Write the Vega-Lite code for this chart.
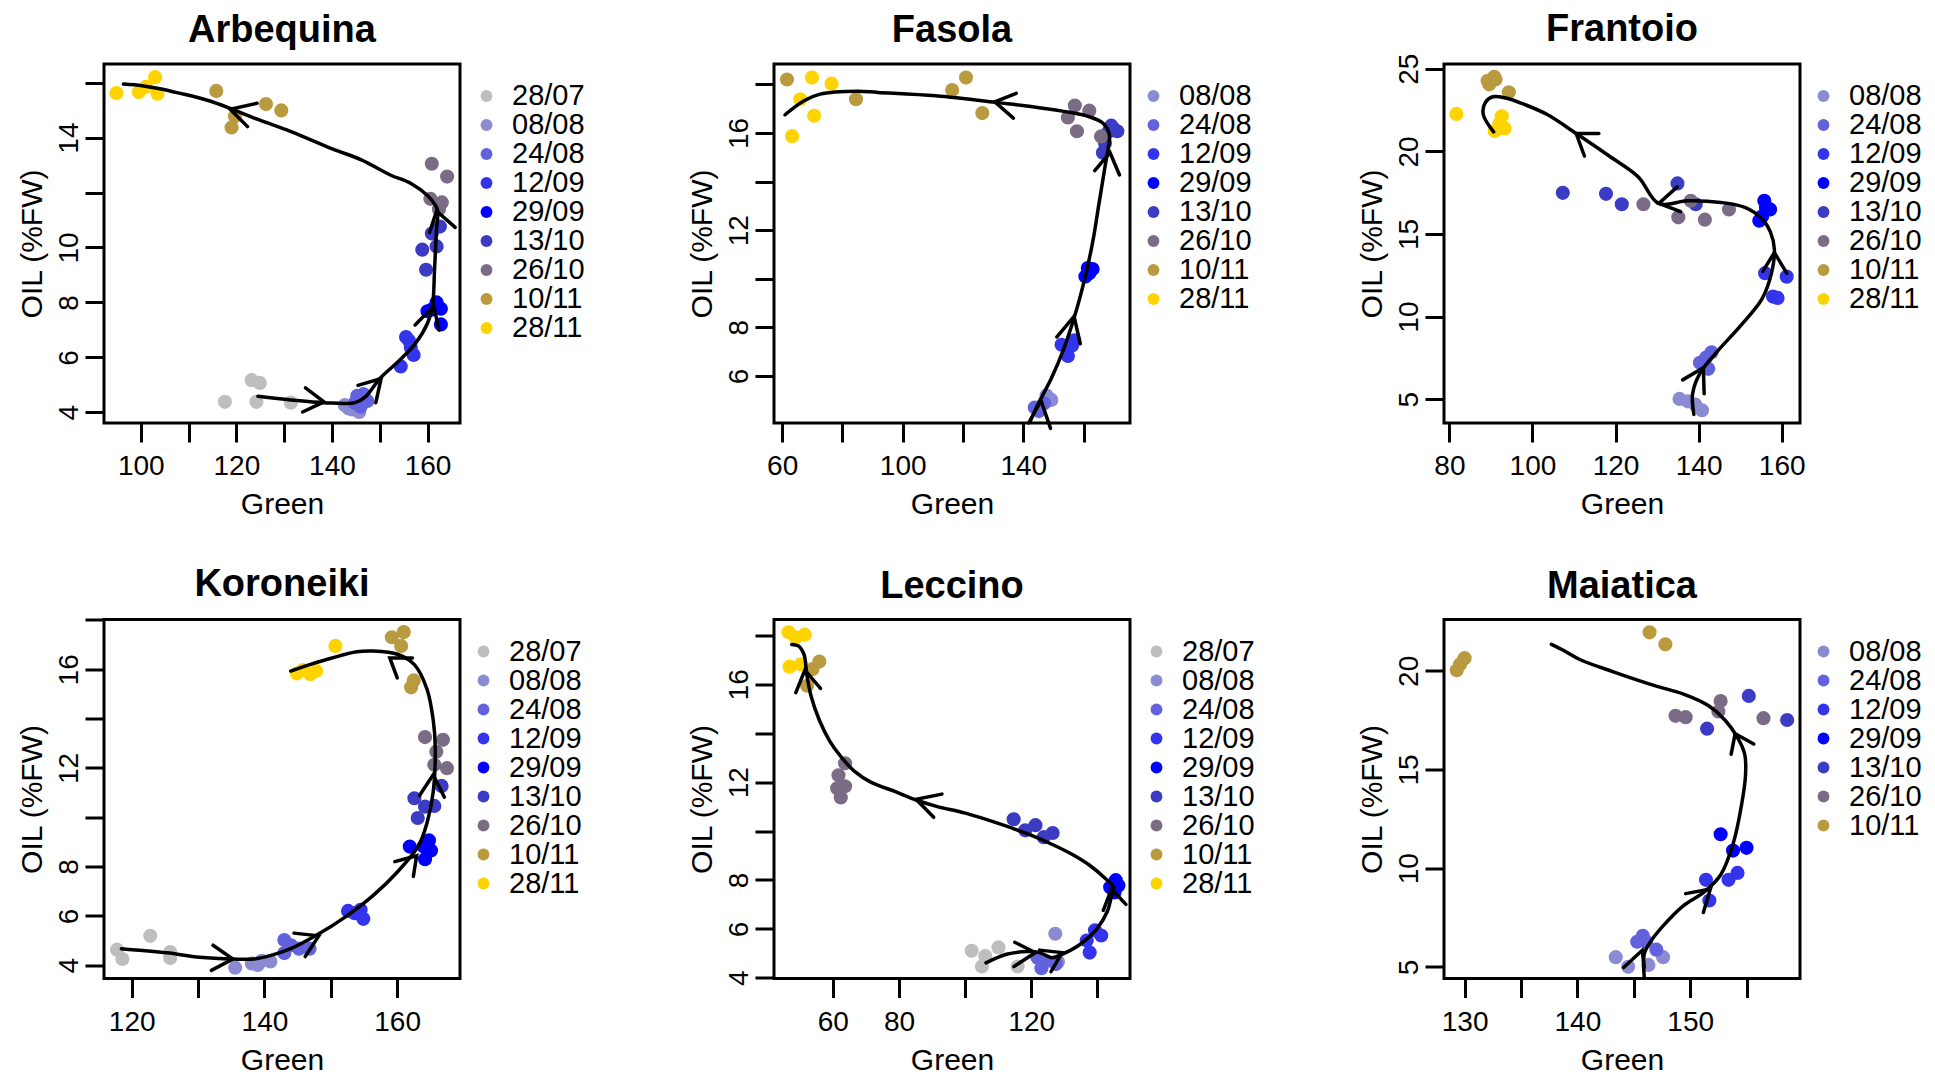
{
"$schema":"https://vega.github.io/schema/vega-lite/v6.json",
"background":"white",
"padding":{"left":15,"top":9,"right":0,"bottom":0},
"bounds":"flush",
"columns":3,
"spacing":{"row":196.5,"column":314},
"resolve":{"scale":{"x":"independent","y":"independent","color":"independent"},"legend":{"color":"independent"},"axis":{"x":"independent","y":"independent"}},
"config":{
"view":{"stroke":"black","strokeWidth":3},
"axis":{"domain":false,"grid":false,"ticks":true,"tickColor":"black","tickWidth":3,"tickSize":19,"labelFont":"Liberation Sans","labelFontSize":28,"labelColor":"black","labelPadding":10.5,"labelFlush":false,"labelOverlap":false,"titleFont":"Liberation Sans","titleFontSize":30,"titleFontWeight":"normal","titleColor":"black","titlePadding":9},
"axisY":{"labelAngle":270,"labelAlign":"center","labelBaseline":"bottom","labelPadding":2,"titlePadding":8},
"legend":{"labelFont":"Liberation Sans","labelFontSize":29,"labelColor":"black","symbolType":"circle","symbolSize":140,"symbolStrokeWidth":0,"symbolOpacity":1,"labelOffset":11,"padding":10,"offset":-1,"rowPadding":0,"clipHeight":28,"orient":"right"},
"title":{"font":"Liberation Sans","fontSize":38,"fontWeight":"bold","color":"black","offset":14,"baseline":"bottom","anchor":"middle"}
},
"datasets":{
"pts":[
{"v":"Arbequina","d":"28/07","g":117.6,"o":4.38},{"v":"Arbequina","d":"28/07","g":123.2,"o":5.17},{"v":"Arbequina","d":"28/07","g":124.9,"o":5.07},{"v":"Arbequina","d":"28/07","g":124.2,"o":4.38},{"v":"Arbequina","d":"28/07","g":131.4,"o":4.35},
{"v":"Arbequina","d":"08/08","g":142.7,"o":4.26},{"v":"Arbequina","d":"08/08","g":144.2,"o":4.10},{"v":"Arbequina","d":"08/08","g":145.7,"o":4.01},{"v":"Arbequina","d":"08/08","g":145.1,"o":4.41},{"v":"Arbequina","d":"08/08","g":143.5,"o":4.14},
{"v":"Arbequina","d":"24/08","g":145.3,"o":4.60},{"v":"Arbequina","d":"24/08","g":147.4,"o":4.41},{"v":"Arbequina","d":"24/08","g":144.8,"o":4.34},{"v":"Arbequina","d":"24/08","g":146.6,"o":4.66},{"v":"Arbequina","d":"24/08","g":146.0,"o":4.20},
{"v":"Arbequina","d":"12/09","g":156.1,"o":6.61},{"v":"Arbequina","d":"12/09","g":156.5,"o":6.36},{"v":"Arbequina","d":"12/09","g":157.1,"o":6.09},{"v":"Arbequina","d":"12/09","g":154.4,"o":5.67},{"v":"Arbequina","d":"12/09","g":155.5,"o":6.74},
{"v":"Arbequina","d":"29/09","g":160.9,"o":7.74},{"v":"Arbequina","d":"29/09","g":161.9,"o":8.0},{"v":"Arbequina","d":"29/09","g":162.8,"o":7.77},{"v":"Arbequina","d":"29/09","g":162.8,"o":7.20},{"v":"Arbequina","d":"29/09","g":160.0,"o":7.68},
{"v":"Arbequina","d":"13/10","g":160.9,"o":10.51},{"v":"Arbequina","d":"13/10","g":162.6,"o":10.76},{"v":"Arbequina","d":"13/10","g":158.9,"o":9.92},{"v":"Arbequina","d":"13/10","g":161.9,"o":10.04},{"v":"Arbequina","d":"13/10","g":159.7,"o":9.19},
{"v":"Arbequina","d":"26/10","g":160.9,"o":13.05},{"v":"Arbequina","d":"26/10","g":164.1,"o":12.58},{"v":"Arbequina","d":"26/10","g":160.6,"o":11.77},{"v":"Arbequina","d":"26/10","g":163.0,"o":11.64},{"v":"Arbequina","d":"26/10","g":162.4,"o":11.39},
{"v":"Arbequina","d":"10/11","g":115.8,"o":15.70},{"v":"Arbequina","d":"10/11","g":126.2,"o":15.22},{"v":"Arbequina","d":"10/11","g":129.4,"o":14.99},{"v":"Arbequina","d":"10/11","g":119.0,"o":14.37},{"v":"Arbequina","d":"10/11","g":119.7,"o":14.78},
{"v":"Arbequina","d":"28/11","g":94.9,"o":15.62},{"v":"Arbequina","d":"28/11","g":99.6,"o":15.66},{"v":"Arbequina","d":"28/11","g":101.1,"o":15.85},{"v":"Arbequina","d":"28/11","g":103.0,"o":16.20},{"v":"Arbequina","d":"28/11","g":103.5,"o":15.60},
{"v":"Fasola","d":"08/08","g":149.3,"o":5.01},{"v":"Fasola","d":"08/08","g":147.7,"o":5.19},
{"v":"Fasola","d":"24/08","g":143.8,"o":4.70},{"v":"Fasola","d":"24/08","g":146.9,"o":4.87},{"v":"Fasola","d":"24/08","g":145.2,"o":4.55},
{"v":"Fasola","d":"12/09","g":152.7,"o":7.28},{"v":"Fasola","d":"12/09","g":156.2,"o":7.25},{"v":"Fasola","d":"12/09","g":154.8,"o":6.82},{"v":"Fasola","d":"12/09","g":156.9,"o":7.46},
{"v":"Fasola","d":"29/09","g":161.4,"o":10.44},{"v":"Fasola","d":"29/09","g":163.0,"o":10.40},{"v":"Fasola","d":"29/09","g":160.6,"o":10.09},{"v":"Fasola","d":"29/09","g":161.9,"o":10.23},
{"v":"Fasola","d":"13/10","g":169.2,"o":16.30},{"v":"Fasola","d":"13/10","g":171.2,"o":16.07},{"v":"Fasola","d":"13/10","g":168.2,"o":16.04},{"v":"Fasola","d":"13/10","g":169.9,"o":16.18},{"v":"Fasola","d":"13/10","g":167.1,"o":15.59},{"v":"Fasola","d":"13/10","g":166.4,"o":15.19},
{"v":"Fasola","d":"26/10","g":157.1,"o":17.13},{"v":"Fasola","d":"26/10","g":161.9,"o":16.92},{"v":"Fasola","d":"26/10","g":154.8,"o":16.64},{"v":"Fasola","d":"26/10","g":157.8,"o":16.07},{"v":"Fasola","d":"26/10","g":165.8,"o":15.86},
{"v":"Fasola","d":"10/11","g":61.6,"o":18.20},{"v":"Fasola","d":"10/11","g":84.5,"o":17.39},{"v":"Fasola","d":"10/11","g":116.4,"o":17.77},{"v":"Fasola","d":"10/11","g":121.0,"o":18.28},{"v":"Fasola","d":"10/11","g":126.4,"o":16.82},
{"v":"Fasola","d":"28/11","g":69.9,"o":18.28},{"v":"Fasola","d":"28/11","g":66.0,"o":17.39},{"v":"Fasola","d":"28/11","g":70.6,"o":16.71},{"v":"Fasola","d":"28/11","g":76.4,"o":18.03},{"v":"Fasola","d":"28/11","g":63.3,"o":15.87},
{"v":"Frantoio","d":"08/08","g":135.4,"o":5.02},{"v":"Frantoio","d":"08/08","g":137.4,"o":4.87},{"v":"Frantoio","d":"08/08","g":140.8,"o":4.33},{"v":"Frantoio","d":"08/08","g":139.2,"o":4.67},
{"v":"Frantoio","d":"24/08","g":141.3,"o":7.11},{"v":"Frantoio","d":"24/08","g":142.3,"o":6.84},{"v":"Frantoio","d":"24/08","g":143.1,"o":7.84},{"v":"Frantoio","d":"24/08","g":140.3,"o":7.21},{"v":"Frantoio","d":"24/08","g":141.8,"o":7.52},
{"v":"Frantoio","d":"12/09","g":156.0,"o":12.63},{"v":"Frantoio","d":"12/09","g":161.2,"o":12.42},{"v":"Frantoio","d":"12/09","g":157.9,"o":11.21},{"v":"Frantoio","d":"12/09","g":159.0,"o":11.13},
{"v":"Frantoio","d":"29/09","g":155.8,"o":17.01},{"v":"Frantoio","d":"29/09","g":156.2,"o":16.60},{"v":"Frantoio","d":"29/09","g":155.3,"o":16.07},{"v":"Frantoio","d":"29/09","g":157.2,"o":16.49},{"v":"Frantoio","d":"29/09","g":154.6,"o":15.80},
{"v":"Frantoio","d":"13/10","g":107.3,"o":17.49},{"v":"Frantoio","d":"13/10","g":117.7,"o":17.43},{"v":"Frantoio","d":"13/10","g":121.5,"o":16.80},{"v":"Frantoio","d":"13/10","g":134.9,"o":18.06},{"v":"Frantoio","d":"13/10","g":139.3,"o":16.80},
{"v":"Frantoio","d":"26/10","g":126.7,"o":16.80},{"v":"Frantoio","d":"26/10","g":138.1,"o":17.01},{"v":"Frantoio","d":"26/10","g":147.3,"o":16.49},{"v":"Frantoio","d":"26/10","g":135.1,"o":16.01},{"v":"Frantoio","d":"26/10","g":141.5,"o":15.87},
{"v":"Frantoio","d":"10/11","g":89.2,"o":24.27},{"v":"Frantoio","d":"10/11","g":90.8,"o":24.52},{"v":"Frantoio","d":"10/11","g":94.3,"o":23.58},{"v":"Frantoio","d":"10/11","g":89.6,"o":24.06},{"v":"Frantoio","d":"10/11","g":91.1,"o":24.35},
{"v":"Frantoio","d":"28/11","g":81.7,"o":22.27},{"v":"Frantoio","d":"28/11","g":92.6,"o":22.12},{"v":"Frantoio","d":"28/11","g":93.3,"o":21.39},{"v":"Frantoio","d":"28/11","g":90.9,"o":21.23},{"v":"Frantoio","d":"28/11","g":92.1,"o":21.70},
{"v":"Koroneiki","d":"28/07","g":117.8,"o":4.63},{"v":"Koroneiki","d":"28/07","g":118.6,"o":4.25},{"v":"Koroneiki","d":"28/07","g":122.8,"o":5.19},{"v":"Koroneiki","d":"28/07","g":125.8,"o":4.53},{"v":"Koroneiki","d":"28/07","g":125.8,"o":4.29},
{"v":"Koroneiki","d":"08/08","g":135.6,"o":3.90},{"v":"Koroneiki","d":"08/08","g":138.1,"o":4.07},{"v":"Koroneiki","d":"08/08","g":139.6,"o":4.18},{"v":"Koroneiki","d":"08/08","g":140.9,"o":4.15},{"v":"Koroneiki","d":"08/08","g":139.0,"o":4.01},
{"v":"Koroneiki","d":"24/08","g":143.0,"o":5.02},{"v":"Koroneiki","d":"24/08","g":143.0,"o":4.49},{"v":"Koroneiki","d":"24/08","g":145.2,"o":4.67},{"v":"Koroneiki","d":"24/08","g":146.8,"o":4.67},{"v":"Koroneiki","d":"24/08","g":144.0,"o":4.81},
{"v":"Koroneiki","d":"12/09","g":152.6,"o":6.20},{"v":"Koroneiki","d":"12/09","g":154.5,"o":6.25},{"v":"Koroneiki","d":"12/09","g":154.9,"o":5.88},{"v":"Koroneiki","d":"12/09","g":153.6,"o":6.11},
{"v":"Koroneiki","d":"29/09","g":161.9,"o":8.81},{"v":"Koroneiki","d":"29/09","g":164.2,"o":8.30},{"v":"Koroneiki","d":"29/09","g":165.1,"o":8.65},{"v":"Koroneiki","d":"29/09","g":164.8,"o":9.06},{"v":"Koroneiki","d":"29/09","g":164.0,"o":8.81},
{"v":"Koroneiki","d":"13/10","g":162.6,"o":10.77},{"v":"Koroneiki","d":"13/10","g":164.2,"o":10.43},{"v":"Koroneiki","d":"13/10","g":165.6,"o":10.46},{"v":"Koroneiki","d":"13/10","g":163.1,"o":9.97},{"v":"Koroneiki","d":"13/10","g":166.7,"o":11.27},
{"v":"Koroneiki","d":"26/10","g":164.2,"o":13.25},{"v":"Koroneiki","d":"26/10","g":166.9,"o":13.14},{"v":"Koroneiki","d":"26/10","g":165.9,"o":12.66},{"v":"Koroneiki","d":"26/10","g":165.6,"o":12.13},{"v":"Koroneiki","d":"26/10","g":167.5,"o":11.99},
{"v":"Koroneiki","d":"10/11","g":159.2,"o":17.30},{"v":"Koroneiki","d":"10/11","g":161.0,"o":17.51},{"v":"Koroneiki","d":"10/11","g":160.6,"o":16.95},{"v":"Koroneiki","d":"10/11","g":162.5,"o":15.55},{"v":"Koroneiki","d":"10/11","g":162.1,"o":15.27},
{"v":"Koroneiki","d":"28/11","g":150.7,"o":16.95},{"v":"Koroneiki","d":"28/11","g":144.9,"o":15.83},{"v":"Koroneiki","d":"28/11","g":146.9,"o":15.80},{"v":"Koroneiki","d":"28/11","g":147.8,"o":15.93},{"v":"Koroneiki","d":"28/11","g":145.8,"o":15.97},
{"v":"Leccino","d":"28/07","g":102.0,"o":5.10},{"v":"Leccino","d":"28/07","g":106.1,"o":4.89},{"v":"Leccino","d":"28/07","g":110.1,"o":5.24},{"v":"Leccino","d":"28/07","g":105.1,"o":4.46},{"v":"Leccino","d":"28/07","g":115.9,"o":4.46},
{"v":"Leccino","d":"08/08","g":127.3,"o":5.80},{"v":"Leccino","d":"08/08","g":128.1,"o":4.65},
{"v":"Leccino","d":"24/08","g":121.9,"o":4.82},{"v":"Leccino","d":"24/08","g":123.1,"o":4.39},{"v":"Leccino","d":"24/08","g":127.5,"o":4.56},{"v":"Leccino","d":"24/08","g":124.4,"o":4.68},
{"v":"Leccino","d":"12/09","g":139.3,"o":5.94},{"v":"Leccino","d":"12/09","g":141.2,"o":5.73},{"v":"Leccino","d":"12/09","g":136.8,"o":5.52},{"v":"Leccino","d":"12/09","g":137.7,"o":5.03},
{"v":"Leccino","d":"29/09","g":145.6,"o":7.99},{"v":"Leccino","d":"29/09","g":146.4,"o":7.77},{"v":"Leccino","d":"29/09","g":143.9,"o":7.70},{"v":"Leccino","d":"29/09","g":145.2,"o":7.49},
{"v":"Leccino","d":"13/10","g":114.7,"o":10.48},{"v":"Leccino","d":"13/10","g":118.2,"o":10.03},{"v":"Leccino","d":"13/10","g":121.3,"o":10.24},{"v":"Leccino","d":"13/10","g":126.5,"o":9.92},{"v":"Leccino","d":"13/10","g":123.8,"o":9.75},
{"v":"Leccino","d":"26/10","g":63.7,"o":12.77},{"v":"Leccino","d":"26/10","g":61.7,"o":12.28},{"v":"Leccino","d":"26/10","g":61.3,"o":11.75},{"v":"Leccino","d":"26/10","g":63.7,"o":11.83},{"v":"Leccino","d":"26/10","g":62.4,"o":11.37},
{"v":"Leccino","d":"10/11","g":55.9,"o":16.93},{"v":"Leccino","d":"10/11","g":52.2,"o":15.94},{"v":"Leccino","d":"10/11","g":53.8,"o":16.62},
{"v":"Leccino","d":"28/11","g":46.6,"o":18.13},{"v":"Leccino","d":"28/11","g":51.5,"o":18.03},{"v":"Leccino","d":"28/11","g":46.9,"o":16.72},{"v":"Leccino","d":"28/11","g":50.3,"o":16.82},{"v":"Leccino","d":"28/11","g":48.8,"o":17.92},
{"v":"Maiatica","d":"08/08","g":143.4,"o":5.49},{"v":"Maiatica","d":"08/08","g":144.5,"o":5.00},{"v":"Maiatica","d":"08/08","g":146.3,"o":5.10},{"v":"Maiatica","d":"08/08","g":147.6,"o":5.49},
{"v":"Maiatica","d":"24/08","g":145.8,"o":6.57},{"v":"Maiatica","d":"24/08","g":146.1,"o":6.27},{"v":"Maiatica","d":"24/08","g":147.0,"o":5.87},{"v":"Maiatica","d":"24/08","g":145.3,"o":6.27},
{"v":"Maiatica","d":"12/09","g":151.4,"o":9.41},{"v":"Maiatica","d":"12/09","g":151.7,"o":8.36},{"v":"Maiatica","d":"12/09","g":153.4,"o":9.41},{"v":"Maiatica","d":"12/09","g":154.2,"o":9.76},
{"v":"Maiatica","d":"29/09","g":152.7,"o":11.72},{"v":"Maiatica","d":"29/09","g":153.8,"o":10.89},{"v":"Maiatica","d":"29/09","g":155.0,"o":11.03},
{"v":"Maiatica","d":"13/10","g":151.5,"o":17.07},{"v":"Maiatica","d":"13/10","g":155.2,"o":18.73},{"v":"Maiatica","d":"13/10","g":158.6,"o":17.51},
{"v":"Maiatica","d":"26/10","g":148.7,"o":17.72},{"v":"Maiatica","d":"26/10","g":149.6,"o":17.65},{"v":"Maiatica","d":"26/10","g":152.7,"o":18.47},{"v":"Maiatica","d":"26/10","g":152.5,"o":17.94},{"v":"Maiatica","d":"26/10","g":156.5,"o":17.60},
{"v":"Maiatica","d":"10/11","g":129.3,"o":20.03},{"v":"Maiatica","d":"10/11","g":130.0,"o":20.64},{"v":"Maiatica","d":"10/11","g":146.4,"o":21.95},{"v":"Maiatica","d":"10/11","g":147.8,"o":21.34},{"v":"Maiatica","d":"10/11","g":129.6,"o":20.33}
],
"crv":[
{"v":"Arbequina","i":1,"g":124.5,"o":4.58},{"v":"Arbequina","i":2,"g":131.43,"o":4.45},{"v":"Arbequina","i":3,"g":138.35,"o":4.35},{"v":"Arbequina","i":4,"g":144.85,"o":4.35},{"v":"Arbequina","i":5,"g":147.01,"o":4.56},{"v":"Arbequina","i":6,"g":150.04,"o":5.23},{"v":"Arbequina","i":7,"g":153.94,"o":5.86},{"v":"Arbequina","i":8,"g":157.4,"o":6.49},{"v":"Arbequina","i":9,"g":160.0,"o":7.24},{"v":"Arbequina","i":10,"g":161.04,"o":7.87},{"v":"Arbequina","i":11,"g":161.47,"o":9.19},{"v":"Arbequina","i":12,"g":161.9,"o":10.7},{"v":"Arbequina","i":13,"g":162.16,"o":11.33},{"v":"Arbequina","i":14,"g":161.73,"o":11.51},{"v":"Arbequina","i":15,"g":160.0,"o":11.89},{"v":"Arbequina","i":16,"g":156.54,"o":12.33},{"v":"Arbequina","i":17,"g":152.21,"o":12.64},{"v":"Arbequina","i":18,"g":146.15,"o":13.19},{"v":"Arbequina","i":19,"g":140.09,"o":13.59},{"v":"Arbequina","i":20,"g":131.43,"o":14.22},{"v":"Arbequina","i":21,"g":124.5,"o":14.66},{"v":"Arbequina","i":22,"g":119.31,"o":15.02},{"v":"Arbequina","i":23,"g":114.11,"o":15.35},{"v":"Arbequina","i":24,"g":108.05,"o":15.62},{"v":"Arbequina","i":25,"g":103.72,"o":15.79},{"v":"Arbequina","i":26,"g":100.26,"o":15.89},{"v":"Arbequina","i":27,"g":96.36,"o":15.95},
{"v":"Fasola","i":1,"g":142.19,"o":4.1},{"v":"Fasola","i":2,"g":145.21,"o":4.91},{"v":"Fasola","i":3,"g":149.32,"o":5.9},{"v":"Fasola","i":4,"g":153.42,"o":7.11},{"v":"Fasola","i":5,"g":157.53,"o":8.67},{"v":"Fasola","i":6,"g":160.55,"o":10.09},{"v":"Fasola","i":7,"g":163.01,"o":11.5},{"v":"Fasola","i":8,"g":165.07,"o":13.06},{"v":"Fasola","i":9,"g":167.12,"o":14.62},{"v":"Fasola","i":10,"g":168.49,"o":15.62},{"v":"Fasola","i":11,"g":168.49,"o":15.97},{"v":"Fasola","i":12,"g":166.44,"o":16.4},{"v":"Fasola","i":13,"g":161.64,"o":16.68},{"v":"Fasola","i":14,"g":145.21,"o":17.04},{"v":"Fasola","i":15,"g":131.51,"o":17.25},{"v":"Fasola","i":16,"g":110.96,"o":17.53},{"v":"Fasola","i":17,"g":91.78,"o":17.67},{"v":"Fasola","i":18,"g":84.93,"o":17.72},{"v":"Fasola","i":19,"g":72.6,"o":17.6},{"v":"Fasola","i":20,"g":67.12,"o":17.32},{"v":"Fasola","i":21,"g":60.96,"o":16.75},
{"v":"Frantoio","i":1,"g":138.85,"o":4.08},{"v":"Frantoio","i":2,"g":138.55,"o":5.33},{"v":"Frantoio","i":3,"g":140.34,"o":6.58},{"v":"Frantoio","i":4,"g":144.31,"o":7.84},{"v":"Frantoio","i":5,"g":150.28,"o":9.5},{"v":"Frantoio","i":6,"g":155.25,"o":11.07},{"v":"Frantoio","i":7,"g":157.53,"o":12.63},{"v":"Frantoio","i":8,"g":158.23,"o":14.09},{"v":"Frantoio","i":9,"g":157.24,"o":15.14},{"v":"Frantoio","i":10,"g":155.25,"o":15.93},{"v":"Frantoio","i":11,"g":151.27,"o":16.6},{"v":"Frantoio","i":12,"g":145.31,"o":16.91},{"v":"Frantoio","i":13,"g":137.36,"o":17.01},{"v":"Frantoio","i":14,"g":130.4,"o":16.85},{"v":"Frantoio","i":15,"g":125.43,"o":18.47},{"v":"Frantoio","i":16,"g":118.47,"o":19.72},{"v":"Frantoio","i":17,"g":110.52,"o":21.08},{"v":"Frantoio","i":18,"g":103.56,"o":22.23},{"v":"Frantoio","i":19,"g":97.59,"o":22.89},{"v":"Frantoio","i":20,"g":93.62,"o":23.23},{"v":"Frantoio","i":21,"g":90.44,"o":23.31},{"v":"Frantoio","i":22,"g":88.65,"o":22.96},{"v":"Frantoio","i":23,"g":88.15,"o":22.23},{"v":"Frantoio","i":24,"g":90.64,"o":21.18},
{"v":"Koroneiki","i":1,"g":118.44,"o":4.67},{"v":"Koroneiki","i":2,"g":125.29,"o":4.5},{"v":"Koroneiki","i":3,"g":130.27,"o":4.32},{"v":"Koroneiki","i":4,"g":135.25,"o":4.25},{"v":"Koroneiki","i":5,"g":138.36,"o":4.25},{"v":"Koroneiki","i":6,"g":140.85,"o":4.39},{"v":"Koroneiki","i":7,"g":143.96,"o":4.67},{"v":"Koroneiki","i":8,"g":147.69,"o":5.19},{"v":"Koroneiki","i":9,"g":152.05,"o":5.93},{"v":"Koroneiki","i":10,"g":156.4,"o":6.83},{"v":"Koroneiki","i":11,"g":160.14,"o":7.81},{"v":"Koroneiki","i":12,"g":163.25,"o":8.86},{"v":"Koroneiki","i":13,"g":164.49,"o":9.76},{"v":"Koroneiki","i":14,"g":165.43,"o":11.02},{"v":"Koroneiki","i":15,"g":165.74,"o":12.83},{"v":"Koroneiki","i":16,"g":165.43,"o":13.95},{"v":"Koroneiki","i":17,"g":164.49,"o":15.2},{"v":"Koroneiki","i":18,"g":162.63,"o":16.18},{"v":"Koroneiki","i":19,"g":160.14,"o":16.6},{"v":"Koroneiki","i":20,"g":156.4,"o":16.74},{"v":"Koroneiki","i":21,"g":153.91,"o":16.71},{"v":"Koroneiki","i":22,"g":150.18,"o":16.46},{"v":"Koroneiki","i":23,"g":147.07,"o":16.21},{"v":"Koroneiki","i":24,"g":143.96,"o":15.93},
{"v":"Leccino","i":1,"g":106.33,"o":4.61},{"v":"Leccino","i":2,"g":112.55,"o":4.96},{"v":"Leccino","i":3,"g":118.78,"o":5.07},{"v":"Leccino","i":4,"g":122.52,"o":5.03},{"v":"Leccino","i":5,"g":126.25,"o":4.82},{"v":"Leccino","i":6,"g":129.36,"o":4.96},{"v":"Leccino","i":7,"g":134.97,"o":5.38},{"v":"Leccino","i":8,"g":139.95,"o":6.01},{"v":"Leccino","i":9,"g":143.06,"o":6.72},{"v":"Leccino","i":10,"g":144.31,"o":7.35},{"v":"Leccino","i":11,"g":144.93,"o":7.7},{"v":"Leccino","i":12,"g":142.44,"o":8.06},{"v":"Leccino","i":13,"g":137.46,"o":8.62},{"v":"Leccino","i":14,"g":132.48,"o":9.04},{"v":"Leccino","i":15,"g":126.25,"o":9.46},{"v":"Leccino","i":16,"g":118.78,"o":9.89},{"v":"Leccino","i":17,"g":110.06,"o":10.31},{"v":"Leccino","i":18,"g":100.1,"o":10.73},{"v":"Leccino","i":19,"g":91.38,"o":11.01},{"v":"Leccino","i":20,"g":85.16,"o":11.27},{"v":"Leccino","i":21,"g":78.93,"o":11.61},{"v":"Leccino","i":22,"g":71.46,"o":12.0},{"v":"Leccino","i":23,"g":66.48,"o":12.45},{"v":"Leccino","i":24,"g":62.74,"o":12.99},{"v":"Leccino","i":25,"g":59.0,"o":13.69},{"v":"Leccino","i":26,"g":55.89,"o":14.54},{"v":"Leccino","i":27,"g":53.4,"o":15.52},{"v":"Leccino","i":28,"g":52.15,"o":16.37},{"v":"Leccino","i":29,"g":51.28,"o":17.21},{"v":"Leccino","i":30,"g":49.66,"o":17.56},{"v":"Leccino","i":31,"g":47.55,"o":17.63},
{"v":"Maiatica","i":1,"g":145.93,"o":4.48},{"v":"Maiatica","i":2,"g":145.93,"o":5.66},{"v":"Maiatica","i":3,"g":146.48,"o":6.27},{"v":"Maiatica","i":4,"g":147.58,"o":7.06},{"v":"Maiatica","i":5,"g":149.41,"o":8.1},{"v":"Maiatica","i":6,"g":151.25,"o":8.8},{"v":"Maiatica","i":7,"g":152.71,"o":9.67},{"v":"Maiatica","i":8,"g":153.81,"o":11.24},{"v":"Maiatica","i":9,"g":154.54,"o":13.15},{"v":"Maiatica","i":10,"g":154.91,"o":14.72},{"v":"Maiatica","i":11,"g":154.84,"o":15.77},{"v":"Maiatica","i":12,"g":154.18,"o":16.64},{"v":"Maiatica","i":13,"g":153.08,"o":17.51},{"v":"Maiatica","i":14,"g":151.61,"o":18.24},{"v":"Maiatica","i":15,"g":149.41,"o":18.82},{"v":"Maiatica","i":16,"g":146.85,"o":19.25},{"v":"Maiatica","i":17,"g":143.19,"o":19.95},{"v":"Maiatica","i":18,"g":140.26,"o":20.56},{"v":"Maiatica","i":19,"g":138.79,"o":21.03},{"v":"Maiatica","i":20,"g":137.69,"o":21.34}
],
"arr":[
{"v":"Arbequina","k":1,"i":1,"g":134.46,"o":4.89},{"v":"Arbequina","k":1,"i":2,"g":138.35,"o":4.38},{"v":"Arbequina","k":1,"i":3,"g":133.85,"o":4.01},
{"v":"Arbequina","k":2,"i":1,"g":145.45,"o":4.98},{"v":"Arbequina","k":2,"i":2,"g":150.3,"o":5.23},{"v":"Arbequina","k":2,"i":3,"g":149.18,"o":4.35},
{"v":"Arbequina","k":3,"i":1,"g":157.4,"o":7.18},{"v":"Arbequina","k":3,"i":2,"g":161.3,"o":7.87},{"v":"Arbequina","k":3,"i":3,"g":162.42,"o":6.99},
{"v":"Arbequina","k":4,"i":1,"g":160.43,"o":10.55},{"v":"Arbequina","k":4,"i":2,"g":161.9,"o":11.33},{"v":"Arbequina","k":4,"i":3,"g":165.8,"o":10.73},
{"v":"Arbequina","k":5,"i":1,"g":124.33,"o":15.25},{"v":"Arbequina","k":5,"i":2,"g":118.7,"o":15.03},{"v":"Arbequina","k":5,"i":3,"g":122.34,"o":14.4},
{"v":"Fasola","k":1,"i":1,"g":141.78,"o":4.06},{"v":"Fasola","k":1,"i":2,"g":145.89,"o":4.98},{"v":"Fasola","k":1,"i":3,"g":149.04,"o":3.84},
{"v":"Fasola","k":2,"i":1,"g":151.1,"o":7.6},{"v":"Fasola","k":2,"i":2,"g":156.85,"o":8.45},{"v":"Fasola","k":2,"i":3,"g":158.9,"o":7.32},
{"v":"Fasola","k":3,"i":1,"g":163.7,"o":14.45},{"v":"Fasola","k":3,"i":2,"g":168.77,"o":15.19},{"v":"Fasola","k":3,"i":3,"g":171.92,"o":14.27},
{"v":"Fasola","k":4,"i":1,"g":137.67,"o":17.63},{"v":"Fasola","k":4,"i":2,"g":130.55,"o":17.28},{"v":"Fasola","k":4,"i":3,"g":136.71,"o":16.61},
{"v":"Frantoio","k":1,"i":1,"g":136.16,"o":6.17},{"v":"Frantoio","k":1,"i":2,"g":141.13,"o":6.9},{"v":"Frantoio","k":1,"i":3,"g":141.33,"o":5.33},
{"v":"Frantoio","k":2,"i":1,"g":155.45,"o":12.74},{"v":"Frantoio","k":2,"i":2,"g":158.23,"o":13.88},{"v":"Frantoio","k":2,"i":3,"g":161.21,"o":12.63},
{"v":"Frantoio","k":3,"i":1,"g":134.87,"o":17.85},{"v":"Frantoio","k":3,"i":2,"g":130.4,"o":16.85},{"v":"Frantoio","k":3,"i":3,"g":135.67,"o":16.35},
{"v":"Frantoio","k":4,"i":1,"g":115.98,"o":21.08},{"v":"Frantoio","k":4,"i":2,"g":110.52,"o":21.08},{"v":"Frantoio","k":4,"i":3,"g":112.5,"o":19.72},
{"v":"Koroneiki","k":1,"i":1,"g":132.26,"o":4.81},{"v":"Koroneiki","k":1,"i":2,"g":135.25,"o":4.25},{"v":"Koroneiki","k":1,"i":3,"g":132.01,"o":3.79},
{"v":"Koroneiki","k":2,"i":1,"g":144.46,"o":5.3},{"v":"Koroneiki","k":2,"i":2,"g":148.19,"o":5.19},{"v":"Koroneiki","k":2,"i":3,"g":146.14,"o":4.35},
{"v":"Koroneiki","k":3,"i":1,"g":159.64,"o":8.2},{"v":"Koroneiki","k":3,"i":2,"g":162.94,"o":8.44},{"v":"Koroneiki","k":3,"i":3,"g":162.44,"o":7.6},
{"v":"Koroneiki","k":4,"i":1,"g":163.37,"o":10.88},{"v":"Koroneiki","k":4,"i":2,"g":165.43,"o":11.72},{"v":"Koroneiki","k":4,"i":3,"g":167.11,"o":10.81},
{"v":"Koroneiki","k":5,"i":1,"g":162.31,"o":16.46},{"v":"Koroneiki","k":5,"i":2,"g":158.89,"o":16.46},{"v":"Koroneiki","k":5,"i":3,"g":160.01,"o":15.65},
{"v":"Leccino","k":1,"i":1,"g":115.04,"o":5.45},{"v":"Leccino","k":1,"i":2,"g":121.27,"o":5.03},{"v":"Leccino","k":1,"i":3,"g":114.79,"o":4.46},
{"v":"Leccino","k":2,"i":1,"g":122.52,"o":5.13},{"v":"Leccino","k":2,"i":2,"g":129.36,"o":5.03},{"v":"Leccino","k":2,"i":3,"g":126.0,"o":4.25},
{"v":"Leccino","k":3,"i":1,"g":141.82,"o":6.76},{"v":"Leccino","k":3,"i":2,"g":144.31,"o":7.63},{"v":"Leccino","k":3,"i":3,"g":148.67,"o":7.0},
{"v":"Leccino","k":4,"i":1,"g":93.0,"o":11.51},{"v":"Leccino","k":4,"i":2,"g":85.16,"o":11.3},{"v":"Leccino","k":4,"i":3,"g":90.51,"o":10.56},
{"v":"Leccino","k":5,"i":1,"g":48.79,"o":15.66},{"v":"Leccino","k":5,"i":2,"g":51.53,"o":16.58},{"v":"Leccino","k":5,"i":3,"g":56.26,"o":15.83},
{"v":"Maiatica","k":1,"i":1,"g":144.1,"o":4.97},{"v":"Maiatica","k":1,"i":2,"g":145.75,"o":5.84},{"v":"Maiatica","k":1,"i":3,"g":145.93,"o":4.97},
{"v":"Maiatica","k":2,"i":1,"g":149.6,"o":8.71},{"v":"Maiatica","k":2,"i":2,"g":151.79,"o":8.94},{"v":"Maiatica","k":2,"i":3,"g":151.17,"o":7.75},
{"v":"Maiatica","k":3,"i":1,"g":153.63,"o":15.77},{"v":"Maiatica","k":3,"i":2,"g":153.99,"o":16.81},{"v":"Maiatica","k":3,"i":3,"g":155.64,"o":16.29}
]
},
"concat":[
{"title":{"text":"Arbequina","offset":14},"width":356,"height":359,
"encoding":{"x":{"field":"g","type":"quantitative","title":"Green","scale":{"domain":[92.3,166.8],"nice":false,"zero":false},"axis":{"values":[100,110,120,130,140,150,160],"labelExpr":"indexof([100,120,140,160], datum.value) >= 0 ? datum.label : ''"}},
"y":{"field":"o","type":"quantitative","title":"OIL (%FW)","scale":{"domain":[3.61,16.68],"nice":false,"zero":false},"axis":{"values":[4,6,8,10,12,14,16],"labelExpr":"indexof([4,6,8,10,14], datum.value) >= 0 ? datum.label : ''"}}},
"layer":[
{"data":{"name":"pts"},"transform":[{"filter":"datum.v == 'Arbequina'"}],"mark":{"type":"point","filled":true,"size":200,"opacity":1},"encoding":{"color":{"field":"d","type":"nominal","scale":{"domain":["28/07","08/08","24/08","12/09","29/09","13/10","26/10","10/11","28/11"],"range":["#BEBEBE","#8B8BD3","#6262DE","#3434EC","#0000FF","#3B3BC3","#7A6C85","#BA9A3E","#FFD300"]},"legend":{"title":" ","titleFontSize":1,"titlePadding":7,"offset":-1,"padding":10,"rowPadding":0,"clipHeight":28,"labelOffset":11,"labelFontSize":29,"symbolSize":140}}}},
{"data":{"name":"crv"},"transform":[{"filter":"datum.v == 'Arbequina'"}],"mark":{"type":"line","interpolate":"catmull-rom","color":"black","strokeWidth":3.5,"strokeCap":"round"},"encoding":{"order":{"field":"i","type":"quantitative"}}},
{"data":{"name":"arr"},"transform":[{"filter":"datum.v == 'Arbequina'"}],"mark":{"type":"line","color":"black","strokeWidth":3.5,"strokeCap":"round"},"encoding":{"detail":{"field":"k","type":"nominal"},"order":{"field":"i","type":"quantitative"}}}
]},
{"title":{"text":"Fasola","offset":14},"width":356,"height":359,
"encoding":{"x":{"field":"g","type":"quantitative","title":"Green","scale":{"domain":[57.3,175.4],"nice":false,"zero":false},"axis":{"values":[60,80,100,120,140,160],"labelExpr":"indexof([60,100,140], datum.value) >= 0 ? datum.label : ''"}},
"y":{"field":"o","type":"quantitative","title":"OIL (%FW)","scale":{"domain":[4.06,18.84],"nice":false,"zero":false},"axis":{"values":[6,8,10,12,14,16,18],"labelExpr":"indexof([6,8,12,16], datum.value) >= 0 ? datum.label : ''"}}},
"layer":[
{"data":{"name":"pts"},"transform":[{"filter":"datum.v == 'Fasola'"}],"mark":{"type":"point","filled":true,"size":200,"opacity":1},"encoding":{"color":{"field":"d","type":"nominal","scale":{"domain":["08/08","24/08","12/09","29/09","13/10","26/10","10/11","28/11"],"range":["#8B8BD3","#6262DE","#3434EC","#0000FF","#3B3BC3","#7A6C85","#BA9A3E","#FFD300"]},"legend":{"title":" ","titleFontSize":1,"titlePadding":7,"offset":-1,"padding":10,"rowPadding":0,"clipHeight":28,"labelOffset":11,"labelFontSize":29,"symbolSize":140}}}},
{"data":{"name":"crv"},"transform":[{"filter":"datum.v == 'Fasola'"}],"mark":{"type":"line","interpolate":"catmull-rom","color":"black","strokeWidth":3.5,"strokeCap":"round"},"encoding":{"order":{"field":"i","type":"quantitative"}}},
{"data":{"name":"arr"},"transform":[{"filter":"datum.v == 'Fasola'"}],"mark":{"type":"line","color":"black","strokeWidth":3.5,"strokeCap":"round"},"encoding":{"detail":{"field":"k","type":"nominal"},"order":{"field":"i","type":"quantitative"}}}
]},
{"title":{"text":"Frantoio","offset":4.7},"width":356,"height":359,
"encoding":{"x":{"field":"g","type":"quantitative","title":"Green","scale":{"domain":[78.7,164.4],"nice":false,"zero":false},"axis":{"values":[80,100,120,140,160]}},
"y":{"field":"o","type":"quantitative","title":"OIL (%FW)","scale":{"domain":[3.56,25.29],"nice":false,"zero":false},"axis":{"values":[5,10,15,20,25]}}},
"layer":[
{"data":{"name":"pts"},"transform":[{"filter":"datum.v == 'Frantoio'"}],"mark":{"type":"point","filled":true,"size":200,"opacity":1},"encoding":{"color":{"field":"d","type":"nominal","scale":{"domain":["08/08","24/08","12/09","29/09","13/10","26/10","10/11","28/11"],"range":["#8B8BD3","#6262DE","#3434EC","#0000FF","#3B3BC3","#7A6C85","#BA9A3E","#FFD300"]},"legend":{"title":" ","titleFontSize":1,"titlePadding":7,"offset":-1,"padding":10,"rowPadding":0,"clipHeight":28,"labelOffset":11,"labelFontSize":29,"symbolSize":140}}}},
{"data":{"name":"crv"},"transform":[{"filter":"datum.v == 'Frantoio'"}],"mark":{"type":"line","interpolate":"catmull-rom","color":"black","strokeWidth":3.5,"strokeCap":"round"},"encoding":{"order":{"field":"i","type":"quantitative"}}},
{"data":{"name":"arr"},"transform":[{"filter":"datum.v == 'Frantoio'"}],"mark":{"type":"line","color":"black","strokeWidth":3.5,"strokeCap":"round"},"encoding":{"detail":{"field":"k","type":"nominal"},"order":{"field":"i","type":"quantitative"}}}
]},
{"title":{"text":"Koroneiki","offset":14},"width":356,"height":359,
"encoding":{"x":{"field":"g","type":"quantitative","title":"Green","scale":{"domain":[115.83,169.47],"nice":false,"zero":false},"axis":{"values":[120,130,140,150,160],"labelExpr":"indexof([120,140,160], datum.value) >= 0 ? datum.label : ''"}},
"y":{"field":"o","type":"quantitative","title":"OIL (%FW)","scale":{"domain":[3.46,18.02],"nice":false,"zero":false},"axis":{"values":[4,6,8,10,12,14,16,18],"labelExpr":"indexof([4,6,8,12,16], datum.value) >= 0 ? datum.label : ''"}}},
"layer":[
{"data":{"name":"pts"},"transform":[{"filter":"datum.v == 'Koroneiki'"}],"mark":{"type":"point","filled":true,"size":200,"opacity":1},"encoding":{"color":{"field":"d","type":"nominal","scale":{"domain":["28/07","08/08","24/08","12/09","29/09","13/10","26/10","10/11","28/11"],"range":["#BEBEBE","#8B8BD3","#6262DE","#3434EC","#0000FF","#3B3BC3","#7A6C85","#BA9A3E","#FFD300"]},"legend":{"title":" ","titleFontSize":1,"titlePadding":7,"offset":-1,"padding":10,"rowPadding":0,"clipHeight":28,"labelOffset":11,"labelFontSize":29,"symbolSize":140}}}},
{"data":{"name":"crv"},"transform":[{"filter":"datum.v == 'Koroneiki'"}],"mark":{"type":"line","interpolate":"catmull-rom","color":"black","strokeWidth":3.5,"strokeCap":"round"},"encoding":{"order":{"field":"i","type":"quantitative"}}},
{"data":{"name":"arr"},"transform":[{"filter":"datum.v == 'Koroneiki'"}],"mark":{"type":"line","color":"black","strokeWidth":3.5,"strokeCap":"round"},"encoding":{"detail":{"field":"k","type":"nominal"},"order":{"field":"i","type":"quantitative"}}}
]},
{"title":{"text":"Leccino","offset":14},"width":356,"height":359,
"encoding":{"x":{"field":"g","type":"quantitative","title":"Green","scale":{"domain":[42.19,149.9],"nice":false,"zero":false},"axis":{"values":[60,80,100,120,140],"labelExpr":"indexof([60,80,120], datum.value) >= 0 ? datum.label : ''"}},
"y":{"field":"o","type":"quantitative","title":"OIL (%FW)","scale":{"domain":[3.97,18.65],"nice":false,"zero":false},"axis":{"values":[4,6,8,10,12,14,16,18],"labelExpr":"indexof([4,6,8,12,16], datum.value) >= 0 ? datum.label : ''"}}},
"layer":[
{"data":{"name":"pts"},"transform":[{"filter":"datum.v == 'Leccino'"}],"mark":{"type":"point","filled":true,"size":200,"opacity":1},"encoding":{"color":{"field":"d","type":"nominal","scale":{"domain":["28/07","08/08","24/08","12/09","29/09","13/10","26/10","10/11","28/11"],"range":["#BEBEBE","#8B8BD3","#6262DE","#3434EC","#0000FF","#3B3BC3","#7A6C85","#BA9A3E","#FFD300"]},"legend":{"title":" ","titleFontSize":1,"titlePadding":7,"offset":-1,"padding":10,"rowPadding":0,"clipHeight":28,"labelOffset":11,"labelFontSize":29,"symbolSize":140}}}},
{"data":{"name":"crv"},"transform":[{"filter":"datum.v == 'Leccino'"}],"mark":{"type":"line","interpolate":"catmull-rom","color":"black","strokeWidth":3.5,"strokeCap":"round"},"encoding":{"order":{"field":"i","type":"quantitative"}}},
{"data":{"name":"arr"},"transform":[{"filter":"datum.v == 'Leccino'"}],"mark":{"type":"line","color":"black","strokeWidth":3.5,"strokeCap":"round"},"encoding":{"detail":{"field":"k","type":"nominal"},"order":{"field":"i","type":"quantitative"}}}
]},
{"title":{"text":"Maiatica","offset":14},"width":356,"height":359,
"encoding":{"x":{"field":"g","type":"quantitative","title":"Green","scale":{"domain":[128.17,159.74],"nice":false,"zero":false},"axis":{"values":[130,135,140,145,150,155],"labelExpr":"indexof([130,140,150], datum.value) >= 0 ? datum.label : ''"}},
"y":{"field":"o","type":"quantitative","title":"OIL (%FW)","scale":{"domain":[4.41,22.6],"nice":false,"zero":false},"axis":{"values":[5,10,15,20]}}},
"layer":[
{"data":{"name":"pts"},"transform":[{"filter":"datum.v == 'Maiatica'"}],"mark":{"type":"point","filled":true,"size":200,"opacity":1},"encoding":{"color":{"field":"d","type":"nominal","scale":{"domain":["08/08","24/08","12/09","29/09","13/10","26/10","10/11"],"range":["#8B8BD3","#6262DE","#3434EC","#0000FF","#3B3BC3","#7A6C85","#BA9A3E"]},"legend":{"title":" ","titleFontSize":1,"titlePadding":7,"offset":-1,"padding":10,"rowPadding":0,"clipHeight":28,"labelOffset":11,"labelFontSize":29,"symbolSize":140}}}},
{"data":{"name":"crv"},"transform":[{"filter":"datum.v == 'Maiatica'"}],"mark":{"type":"line","interpolate":"catmull-rom","color":"black","strokeWidth":3.5,"strokeCap":"round"},"encoding":{"order":{"field":"i","type":"quantitative"}}},
{"data":{"name":"arr"},"transform":[{"filter":"datum.v == 'Maiatica'"}],"mark":{"type":"line","color":"black","strokeWidth":3.5,"strokeCap":"round"},"encoding":{"detail":{"field":"k","type":"nominal"},"order":{"field":"i","type":"quantitative"}}}
]}
]
}
